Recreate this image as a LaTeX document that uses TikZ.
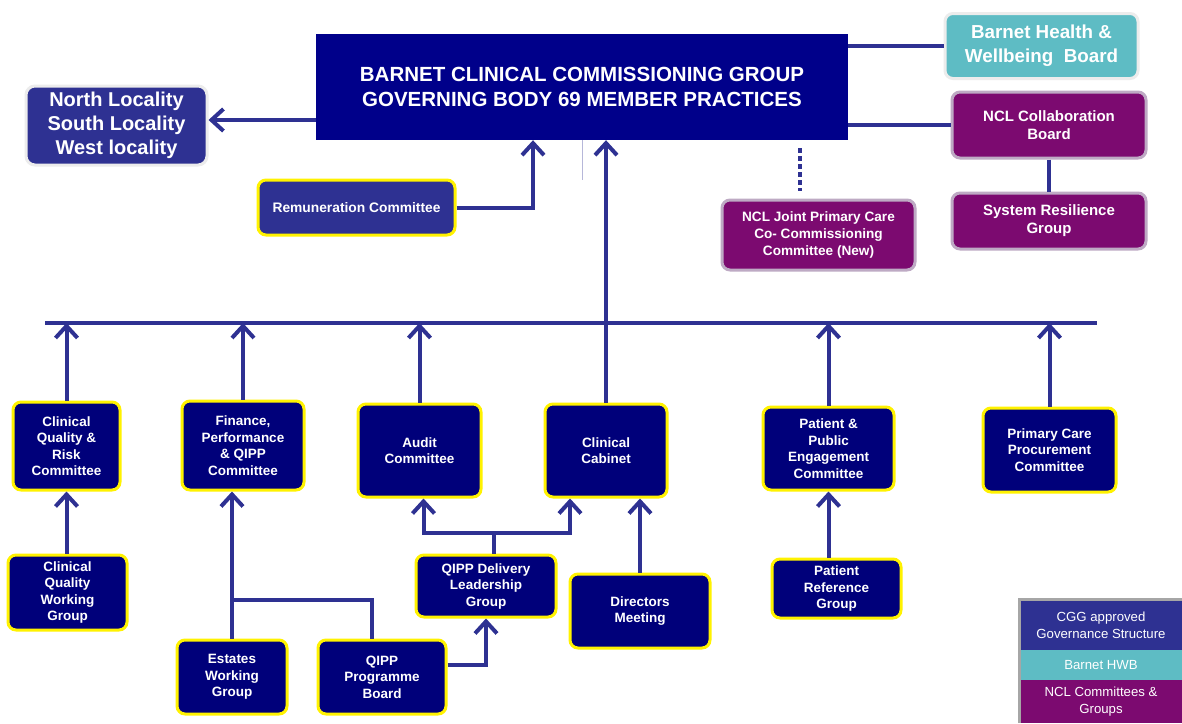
\documentclass[tikz,border=0pt]{standalone}
\usepackage{fontspec}
\setmainfont{Liberation Sans}
\usetikzlibrary{arrows.meta}

\definecolor{cggnavy}{RGB}{0,0,138}
\definecolor{rownavy}{RGB}{0,0,122}
\definecolor{cggblue}{RGB}{46,49,146}
\definecolor{hwbteal}{RGB}{94,188,196}
\definecolor{nclpurple}{RGB}{124,10,112}
\definecolor{nclrim}{RGB}{190,170,196}

\tikzset{
  link/.style={draw=cggblue, line width=4pt},
  uparr/.style={-{Straight Barb[length=12pt,width=22pt]}},
  rowbox/.style={draw=yellow, line width=3pt, fill=rownavy, rounded corners=8pt, text=white,
    align=center, font=\bfseries\fontsize{13.5}{16.5}\selectfont, inner sep=2pt},
  nclbox/.style={draw=nclrim, line width=3pt, fill=nclpurple, rounded corners=8pt, text=white,
    align=center, font=\bfseries\fontsize{15}{18}\selectfont, inner sep=2pt},
  legband/.style={fill=#1, text=white, align=center, minimum width=162pt, inner sep=0pt,
    font=\fontsize{13.2}{17}\selectfont}
}

\begin{document}
\begin{tikzpicture}[x=1pt, y=-1pt]
  \useasboundingbox[fill=white] (0,0) rectangle (1182,723);

  % Riquadro principale
  \node[fill=cggnavy, minimum width=532pt, minimum height=106pt, text=white, align=center,
    font=\bfseries\fontsize{20.5}{25}\selectfont] (main) at (582,87)
    {BARNET CLINICAL COMMISSIONING GROUP\\GOVERNING BODY 69 MEMBER PRACTICES};

  % Localita e comitato remunerazione
  \node[draw=gray!15, line width=3pt, fill=cggblue, rounded corners=9pt, text=white, align=center,
    minimum width=181pt, minimum height=79pt, font=\bfseries\fontsize{20}{24}\selectfont]
    (loc) at (116.5,125.5) {North Locality\\South Locality\\West locality};
  \node[rowbox, fill=cggblue, font=\bfseries\fontsize{13.8}{16}\selectfont, minimum width=197pt,
    minimum height=55pt] (rem) at (356.5,207.5) {Remuneration Committee};

  % Organismi esterni
  \node[draw=gray!15, line width=3pt, fill=hwbteal, rounded corners=8pt, text=white, align=center,
    minimum width=193pt, minimum height=65pt, font=\bfseries\fontsize{18.8}{24}\selectfont]
    (hwb) at (1041.5,46) {Barnet Health \&\\Wellbeing\ \ Board};
  \node[nclbox, minimum width=194pt, minimum height=66pt] (nclcol) at (1049,125)
    {NCL Collaboration\\Board};
  \node[nclbox, minimum width=194pt, minimum height=56pt] (sysres) at (1049,221)
    {System Resilience\\Group};
  \node[nclbox, font=\bfseries\fontsize{13.6}{17}\selectfont, minimum width=193pt,
    minimum height=70pt] (ncljoint) at (818.5,235)
    {NCL Joint Primary Care\\Co- Commissioning\\Committee (New)};

  % Comitati
  \node[rowbox, minimum width=107pt, minimum height=88pt] (cqr) at (66.5,446)
    {Clinical\\Quality \&\\Risk\\Committee};
  \node[rowbox, minimum width=122pt, minimum height=89pt] (fin) at (243,445.5)
    {Finance,\\Performance\\\& QIPP\\Committee};
  \node[rowbox, minimum width=123pt, minimum height=93pt] (audit) at (419.5,450.5)
    {Audit\\Committee};
  \node[rowbox, minimum width=122pt, minimum height=93pt] (cab) at (606,450.5)
    {Clinical\\Cabinet};
  \node[rowbox, minimum width=131pt, minimum height=83pt] (ppe) at (828.5,448.5)
    {Patient \&\\Public\\Engagement\\Committee};
  \node[rowbox, minimum width=133pt, minimum height=84pt] (pcp) at (1049.5,450)
    {Primary Care\\Procurement\\Committee};

  % Gruppi
  \node[rowbox, minimum width=119pt, minimum height=75pt] (cqw) at (67.5,592.5)
    {Clinical\\Quality\\Working\\Group};
  \node[rowbox, minimum width=140pt, minimum height=62pt] (qdl) at (486,586)
    {QIPP Delivery\\Leadership\\Group};
  \node[rowbox, minimum width=140pt, minimum height=74pt] (dir) at (640,611)
    {Directors\\Meeting};
  \node[rowbox, minimum width=129pt, minimum height=59pt] (prg) at (836.5,588.5)
    {Patient\\Reference\\Group};
  \node[rowbox, minimum width=110pt, minimum height=74pt] (est) at (232,677)
    {Estates\\Working\\Group};
  \node[rowbox, minimum width=128pt, minimum height=74pt] (qpb) at (382,677)
    {QIPP\\Programme\\Board};

  % Collegamenti in alto
  \coordinate (locArr) at (316,120);
  \draw[link, uparr] (locArr) -- (locArr -| loc.east);
  \draw[link, uparr] (rem.east) -| ([xshift=-49pt]main.south);
  \draw[cggblue!35, line width=1pt] (main.south) -- ++(0,40);
  \draw[link] (main.east |- hwb.west) -- (hwb.west);
  \draw[link] (main.east |- nclcol.west) -- (nclcol.west);
  \draw[link] (nclcol.south) -- (nclcol.south |- sysres.north);
  \coordinate (dotTop) at (800,148);
  \draw[draw=cggblue, line width=4pt, dash pattern=on 5pt off 3pt] (dotTop) -- (dotTop |- ncljoint.north)
    [shorten >=8pt];
  \draw[link, uparr] (cab.north) -- (cab.north |- main.south);

  % Barra orizzontale
  \coordinate (busL) at (45,323);
  \coordinate (busR) at (1097,323);
  \draw[link] (busL) -- (busR);
  \foreach \b in {cqr, fin, audit, ppe, pcp}
    \draw[link, uparr] (\b.north) -- (\b.north |- busL);

  % Collegamenti in basso
  \draw[link, uparr] (cqr.south |- cqw.north) -- (cqr.south);
  \draw[link, uparr] (est.north) -- (est.north |- fin.south);
  \coordinate (join) at (231,600);
  \draw[link] ([xshift=-10pt]qpb.north) |- (join);
  \draw[link, uparr] ([yshift=12pt]qpb.east) -| (qdl.south);
  \coordinate (qdlTop) at (494,533);
  \draw[link, uparr] (qdlTop |- qdl.north) -- (qdlTop) -| ([xshift=4pt]audit.south);
  \draw[link, uparr] (qdlTop) -| ([xshift=-36pt]cab.south);
  \draw[link, uparr] (dir.north) -- (dir.north |- cab.south);
  \draw[link, uparr] (ppe.south |- prg.north) -- (ppe.south);

  % Legenda
  \node[legband=cggblue, minimum height=50pt] (leg1) at (1101,625) {CGG approved\\Governance Structure};
  \node[legband=hwbteal, minimum height=30pt] (leg2) at (1101,665) {Barnet HWB};
  \node[legband=nclpurple, minimum height=43pt] (leg3) at (1101,701.5) {NCL Committees \&\\Groups};
  \draw[gray!70, line width=3pt] (leg3.south west) -- (leg1.north west) -- (leg1.north east);
\end{tikzpicture}
\end{document}
